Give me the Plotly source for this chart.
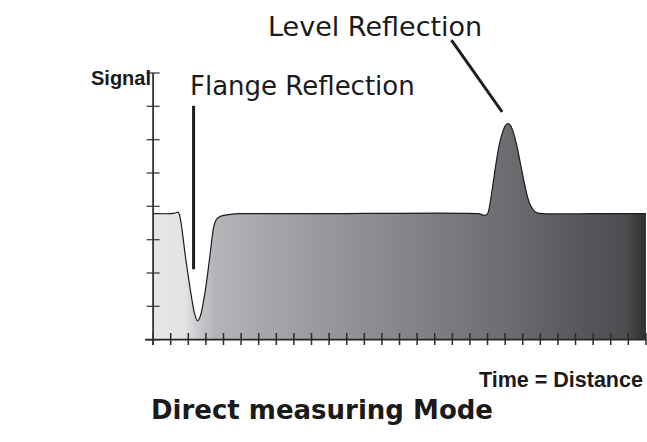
import plotly.graph_objects as go

# ---- data (x in tick units along the time axis, y in tick units of signal) ----
SIGNAL_X = [0, 0.98, 1.27, 1.41, 1.49, 1.61, 1.84, 2.12, 2.35, 2.53, 2.68, 2.97, 3.22, 3.44,
            3.60, 3.82, 4.39, 4.96, 10, 18.48, 18.82, 18.98, 19.07, 19.26, 19.45, 19.64, 19.83,
            20.02, 20.17, 20.30, 20.49, 20.68, 20.87, 21.06, 21.25, 21.44, 21.72, 22.10, 25, 28]
SIGNAL_Y = [3.78, 3.78, 3.80, 3.83, 3.76, 3.43, 2.48, 1.48, 0.79, 0.56, 0.70, 1.48, 2.48, 3.38,
            3.61, 3.70, 3.76, 3.78, 3.78, 3.78, 3.73, 3.76, 3.88, 4.48, 5.18, 5.78, 6.18,
            6.43, 6.48, 6.43, 6.18, 5.78, 5.28, 4.78, 4.33, 4.03, 3.83, 3.78, 3.78, 3.78]
X_TICKS = list(range(0, 29))
Y_TICKS = list(range(0, 9))

TITLE = "Direct measuring Mode"
X_LABEL = "Time = Distance"
Y_LABEL = "Signal"
FLANGE_LABEL = "Flange Reflection"
LEVEL_LABEL = "Level Reflection"

# ---- layout geometry ----
W, H = 647, 442
ML, MR, MT, MB = 145, 0, 71, 97
XR = [-0.46, 28.06]
YR = [-0.16, 8.06]
PW, PH = W - ML - MR, H - MT - MB
TICK_HALF_X = 0.37   # half length of y-axis ticks (x units)
TICK_HALF_Y = 0.20   # half length of x-axis ticks (y units)

def px_x(px):
    return (px - ML) / PW

def px_y(py):
    return (H - MB - py) / PH

SANS = "Liberation Sans, Arial, Helvetica, sans-serif"
WIDE = "DejaVu Sans, Verdana, sans-serif"

fig = go.Figure()
fig.add_trace(go.Scatter(
    x=SIGNAL_X, y=SIGNAL_Y, mode="lines",
    line=dict(color="#1c1c1c", width=1.2, shape="spline", smoothing=0.6),
    fill="tozeroy",
    fillgradient=dict(
        type="horizontal",
        colorscale=[
            [0.00, "#e7e7e9"], [0.065, "#e3e3e5"], [0.09, "#c9cacd"], [0.125, "#b4b5b9"],
            [0.30, "#9d9ea2"], [0.50, "#86878b"], [0.70, "#6e6f73"], [0.85, "#5a5a5e"],
            [0.96, "#4d4d50"], [0.985, "#3a3a3b"], [1.00, "#303030"],
        ],
    ),
    hoverinfo="skip", showlegend=False,
))

# crossing tick marks at the tick values
tx, ty = [], []
for v in X_TICKS:
    tx += [v, v, None]
    ty += [-TICK_HALF_Y, TICK_HALF_Y, None]
fig.add_trace(go.Scatter(x=tx, y=ty, mode="lines", line=dict(color="#2a2a2a", width=1.5),
                         hoverinfo="skip", showlegend=False))
ux, uy = [], []
for v in Y_TICKS:
    ux += [-TICK_HALF_X, TICK_HALF_X, None]
    uy += [v, v, None]
fig.add_trace(go.Scatter(x=ux, y=uy, mode="lines", line=dict(color="#4a4a4a", width=1.4),
                         hoverinfo="skip", showlegend=False))

# axis lines (x axis along y=0, y axis along x=0)
fig.add_shape(type="line", xref="x", yref="y", x0=XR[0], x1=X_TICKS[-1], y0=0, y1=0,
              line=dict(color="#262626", width=1.6), layer="above")
fig.add_shape(type="line", xref="x", yref="y", x0=0, x1=0, y0=YR[0], y1=Y_TICKS[-1],
              line=dict(color="#333333", width=1.8), layer="above")

hidden = dict(showgrid=False, zeroline=False, showticklabels=False, showline=False,
              ticks="", fixedrange=True)
fig.update_layout(
    width=W, height=H,
    margin=dict(l=ML, r=MR, t=MT, b=MB, pad=0),
    paper_bgcolor="white", plot_bgcolor="white",
    showlegend=False,
    xaxis=dict(range=XR, **hidden),
    yaxis=dict(range=YR, **hidden),
)

# pointer lines (annotation arrows without heads)
FLANGE_PTR = dict(x=2.3, y=2.11, ax=2.3, ay=7.06)
LEVEL_PTR = dict(x=19.83, y=6.83, ax=16.89, ay=9.03)
for p in (FLANGE_PTR, LEVEL_PTR):
    fig.add_annotation(x=p["x"], y=p["y"], ax=p["ax"], ay=p["ay"], xref="x", yref="y",
                       axref="x", ayref="y", text="", showarrow=True, arrowhead=0,
                       arrowwidth=3, arrowcolor="#1e1e1e", standoff=0, startstandoff=0)

def label(text, px, py, xanchor, size, family, bold=False):
    fig.add_annotation(x=px_x(px), y=px_y(py), xref="paper", yref="paper",
                       text=f"<b>{text}</b>" if bold else text, showarrow=False,
                       xanchor=xanchor, yanchor="middle",
                       font=dict(family=family, size=size, color="#1a1a1a"))

label(Y_LABEL, 89, 78, "left", 20, SANS, bold=True)
label(FLANGE_LABEL, 188, 86, "left", 26, WIDE)
label(LEVEL_LABEL, 266, 26, "left", 27, WIDE)
label(X_LABEL, 645, 380, "right", 21.5, SANS, bold=True)
label(TITLE, 322, 410, "center", 26, WIDE, bold=True)

fig.write_html("out.html", config={"displayModeBar": False, "staticPlot": True},
               post_script="document.body.style.margin='0';")
